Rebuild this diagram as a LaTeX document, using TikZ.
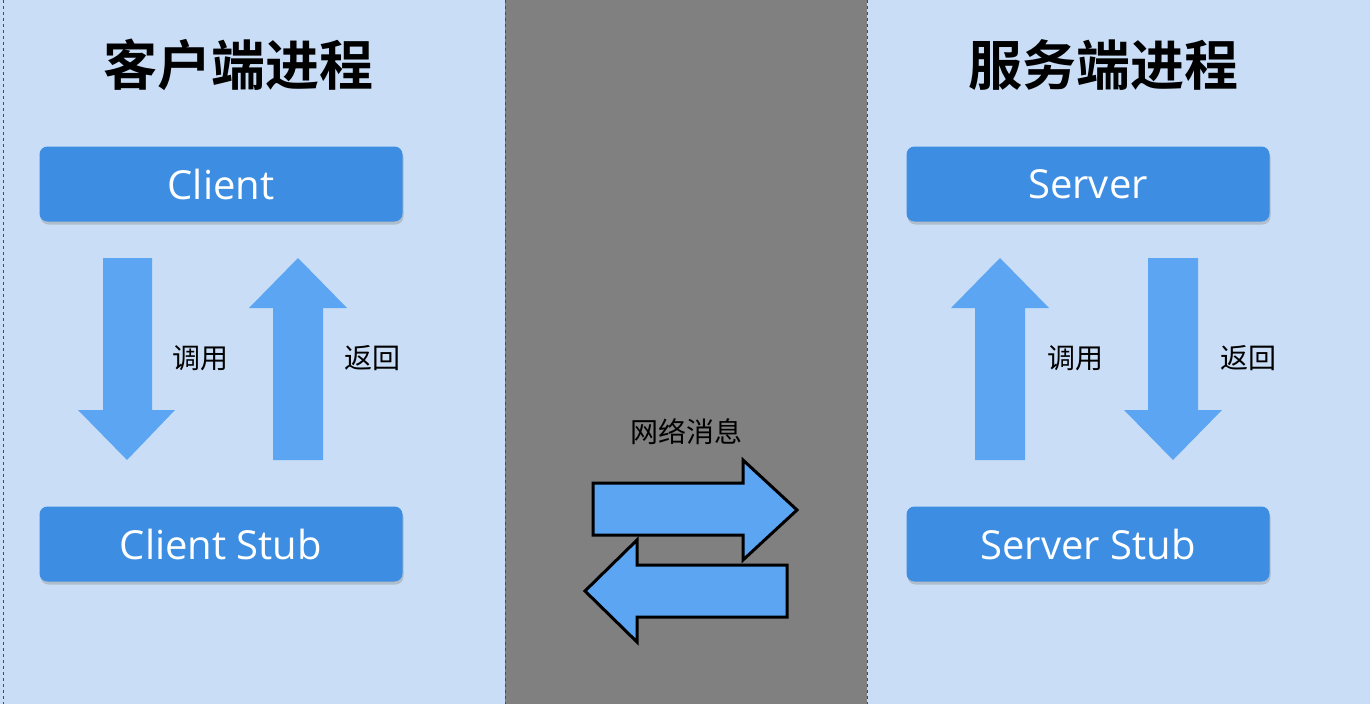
\documentclass[tikz,border=0pt]{standalone}
\usepackage{fontspec}
\setmainfont{Open Sans}
\newfontfamily\cjk{Noto Sans CJK SC}
\newfontfamily\cjkb{Noto Sans CJK SC}[BoldFont={* Bold}]
\usetikzlibrary{shadows}
\definecolor{panel}{HTML}{C9DEF6}
\definecolor{boxc}{HTML}{3D8EE2}
\definecolor{arr}{HTML}{5BA5F2}
\tikzset{x=1pt,y=-1pt,
 boxn/.style={draw=none,fill=boxc,rounded corners=8pt,minimum width=363pt,minimum height=75pt,text=white,font=\fontsize{40}{40}\selectfont,drop shadow={shadow xshift=1pt,shadow yshift=-3pt,opacity=.35}},
 title/.style={font=\cjkb\bfseries\fontsize{54}{54}\selectfont},
 lab/.style={font=\cjk\fontsize{28}{28}\selectfont},
 bigarr/.style={fill=arr,draw=none},
 netarr/.style={fill=arr,draw=black,line width=3pt,line join=miter}}
\begin{document}
\begin{tikzpicture}
\useasboundingbox (0,0) rectangle (1370,704);
\fill[panel] (0,0) rectangle (505,704);
\fill[gray!100!black,fill=gray] (505,0) rectangle (867,704);
\fill[panel] (867,0) rectangle (1370,704);
\draw[dashed,line width=1pt,black!70] (3,0) -- (3,704) (505,0) -- (505,704) (867,0) -- (867,704);
\node[title] (t1) at (238,65) {客户端进程};
\node[title] (t2) at (1103,65) {服务端进程};
\node[boxn] (c) at (221,184) {Client};
\node[boxn] (cs) at (221,544) {Client Stub};
\node[boxn] (s) at (1088,184) {Server};
\node[boxn] (ss) at (1088,544) {Server Stub};
% left arrows
\fill[bigarr] (103,258) -- (152,258) -- (152,410) -- (175,410) -- (127,460) -- (78,410) -- (103,410) -- cycle;
\fill[bigarr] (273,460) -- (323,460) -- (323,308) -- (347,308) -- (298,258) -- (249,308) -- (273,308) -- cycle;
\node[lab] (l1) at (200,358) {调用};
\node[lab] (l2) at (372,358) {返回};
% right arrows
\fill[bigarr] (975,460) -- (1025,460) -- (1025,308) -- (1049,308) -- (1000,258) -- (951,308) -- (975,308) -- cycle;
\fill[bigarr] (1148,258) -- (1198,258) -- (1198,410) -- (1222,410) -- (1173,460) -- (1124,410) -- (1148,410) -- cycle;
\node[lab] (l3) at (1075,358) {调用};
\node[lab] (l4) at (1248,358) {返回};
% network
\node[lab] (n) at (686,432) {网络消息};
\draw[netarr] (593,483) -- (743,483) -- (743,460) -- (797,510) -- (743,560) -- (743,535) -- (593,535) -- cycle;
\draw[netarr] (787,565) -- (637,565) -- (637,540) -- (585,591) -- (637,642) -- (637,617) -- (787,617) -- cycle;
\end{tikzpicture}
\end{document}
